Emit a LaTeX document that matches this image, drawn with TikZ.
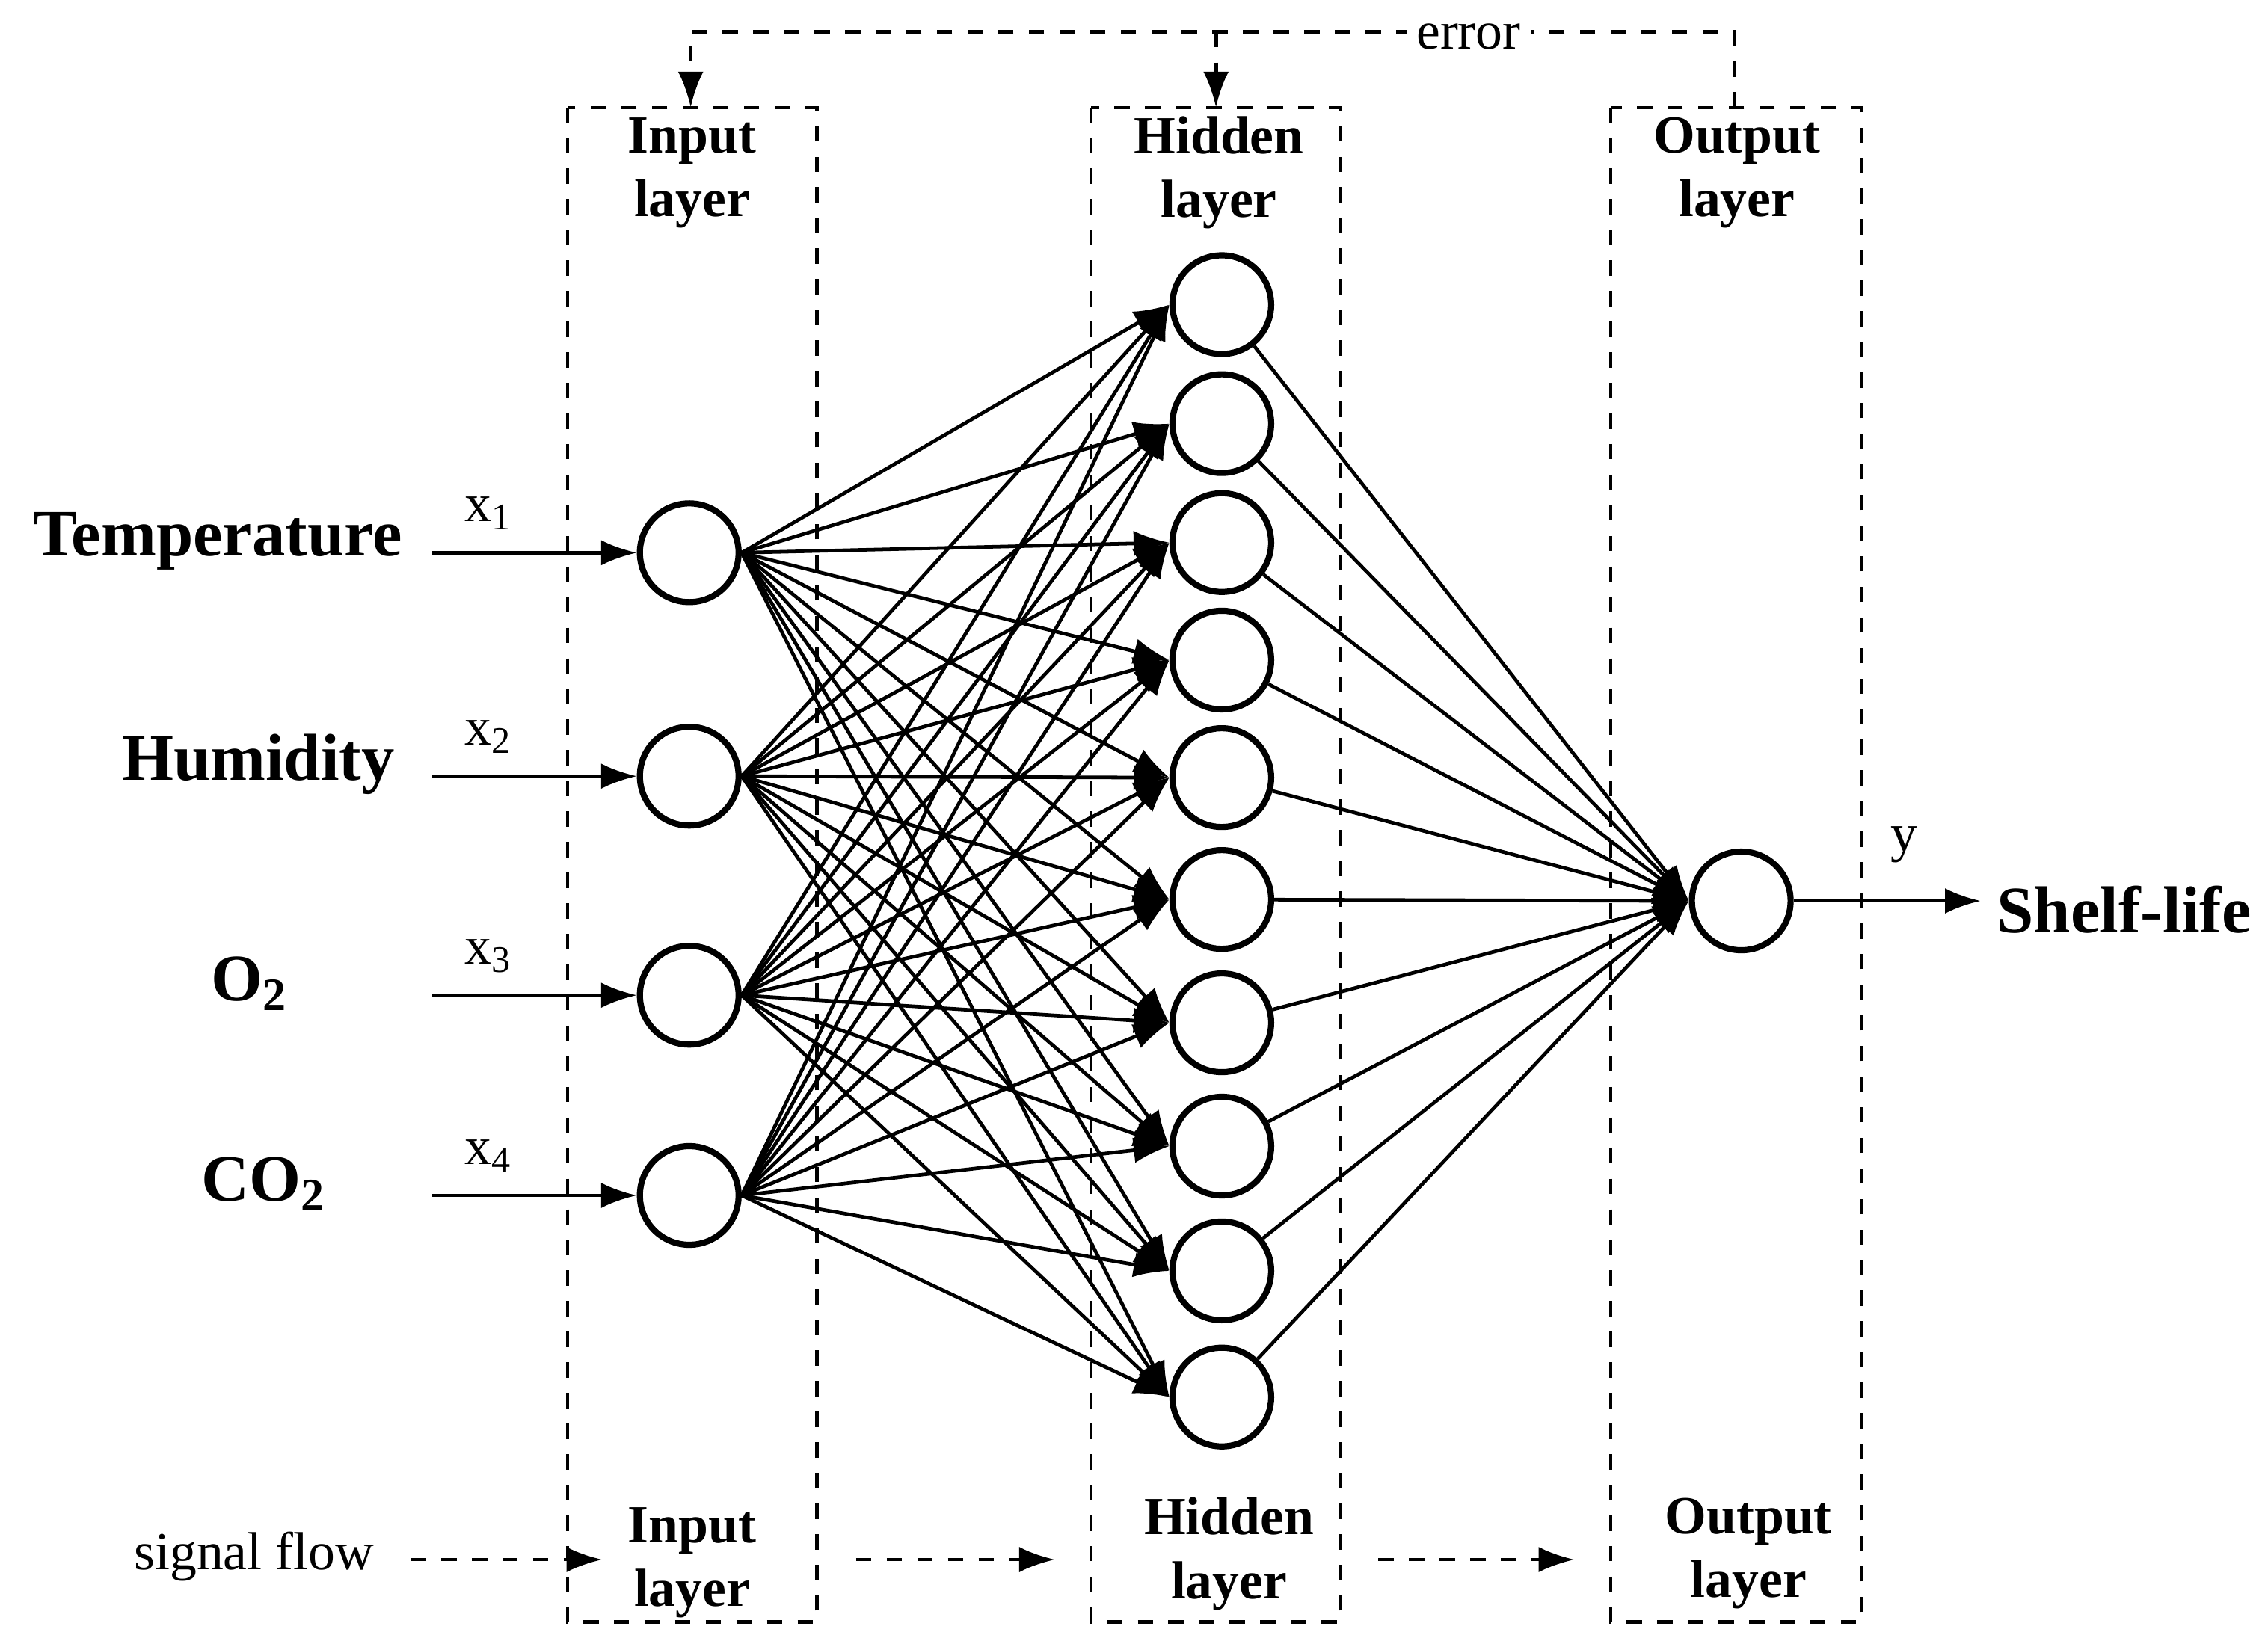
\documentclass[tikz,border=0pt]{standalone}
\usepackage{fontspec}
\setmainfont{Liberation Serif}
\usetikzlibrary{arrows.meta}
\begin{document}
\begin{tikzpicture}[x=0.01cm,y=-0.01cm,
  neuron/.style={circle,draw,line width=1.2pt,minimum size=0.68cm,inner sep=0pt},
  box/.style={draw,dashed,line width=0.6pt},
  conn/.style={line width=0.7pt,-{Latex[length=7pt,width=5pt]}},
  lbl/.style={font=\fontsize{10.5}{12.5}\selectfont\bfseries,align=center},
  big/.style={font=\fontsize{13}{15}\selectfont\bfseries},
  sm/.style={font=\fontsize{10.5}{12.5}\selectfont},
  dar/.style={dashed,line width=0.7pt,-{Latex[length=7pt,width=5pt]}}]
\useasboundingbox (0,0) rectangle (1563,1133);
% boxes
\draw[box] (391,74) rectangle (563,1118);
\draw[box] (752,74) rectangle (924,1118);
\draw[box] (1110,74) rectangle (1283,1118);
% layer labels
\node[lbl] at (477,119) {Input\\layer};
\node[lbl] at (840,119) {Hidden\\layer};
\node[lbl] at (1197,119) {Output\\layer};
\node[lbl] at (477,1077) {Input\\layer};
\node[lbl] at (847,1071) {Hidden\\layer};
\node[lbl] at (1205,1071) {Output\\layer};
% neurons
\foreach \y [count=\i] in {381,535,686,824} \node[neuron] (i\i) at (475,\y) {};
\foreach \y [count=\j] in {210,292,374,455,536,620,705,790,876,963} \node[neuron] (h\j) at (842,\y) {};
\node[neuron] (o) at (1200,621) {};
% connections
\foreach \i in {1,...,4} \foreach \j in {1,...,10} \draw[conn] (i\i.east) -- (h\j.west);
\foreach \j in {1,...,10} \draw[conn] (h\j) -- (o.west);
% inputs
\foreach \i/\y/\t/\tx/\n in {1/381/Temperature/150/1,2/535/Humidity/178/2,3/686/O\textsubscript{2}/172/3,4/824/CO\textsubscript{2}/182/4}{
  \coordinate (s\i) at (298,\y);
  \draw[conn] (s\i) -- (i\i.west);
  \node[big] at (\tx,\y-8) {\t};
  \node[sm] at (337,\y-27) {x\textsubscript{\n}};
}
% output
\coordinate (out) at (1365,621);
\draw[conn] (o.east) -- (out);
\node[sm] at (1312,582) {y};
\node[big,anchor=west,inner sep=1pt] at (1372,627) {Shelf-life};
% error
\coordinate (e0) at (1195,74);
\coordinate (e1) at (1195,22);
\coordinate (e2) at (476,22);
\coordinate (e3) at (476,74);
\coordinate (e4) at (838,22);
\coordinate (e5) at (838,74);
\draw[dar] (e0) -- (e1) -- (e2) -- (e3);
\draw[dar] (e4) -- (e5);
\node[sm,fill=white,inner sep=2pt] at (1012,25) {error};
% signal flow
\node[sm] at (175,1073) {signal flow};
\coordinate (a1) at (283,1075); \coordinate (a2) at (415,1075);
\coordinate (b1) at (590,1075); \coordinate (b2) at (727,1075);
\coordinate (c1) at (950,1075); \coordinate (c2) at (1085,1075);
\draw[dar] (a1) -- (a2);
\draw[dar] (b1) -- (b2);
\draw[dar] (c1) -- (c2);
\end{tikzpicture}
\end{document}
